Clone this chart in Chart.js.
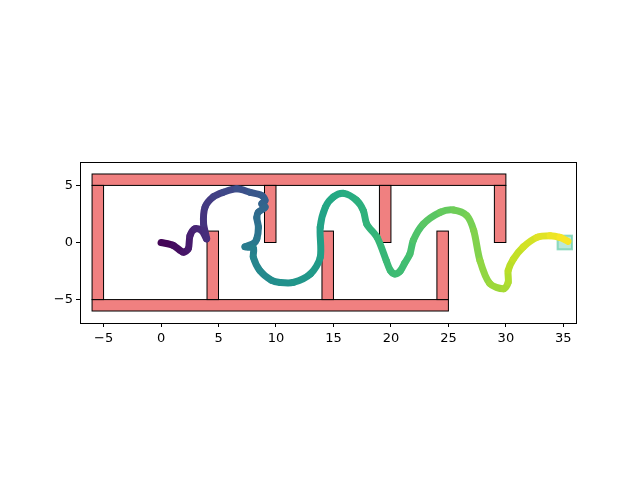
<!DOCTYPE html>
<html>
<head>
<meta charset="utf-8">
<script src="https://cdn.jsdelivr.net/npm/chart.js@4"></script>
<style>
  html, body { margin: 0; padding: 0; background: #fff; }
</style>
</head>
<body>
<canvas id="mazeChart" width="640" height="480"></canvas>
<script>
// trajectory (x, y)
const pathX = [0, 1.07, 1.94, 2.37, 2.52, 2.96, 3.54, 3.97, 3.7, 3.83, 4.55, 5.42, 6.58, 7.74, 8.76, 9.05, 8.76, 9.05, 8.47, 8.33, 8.47, 8.33, 8.03, 7.3, 8.03, 8.03, 8.6, 9.6, 10.35, 11.5, 13.0, 13.85, 13.85, 14.3, 15.0, 15.9, 17.0, 17.6, 17.9, 18.8, 19.6, 19.95, 20.35, 20.8, 21.2, 21.65, 21.95, 22.8, 24.3, 25.45, 26.6, 27.2, 27.75, 28.6, 29.8, 30.2, 30.2, 30.65, 31.5, 32.7, 33.85, 34.7, 35.4];
const pathY = [0, -0.26, -0.85, -0.55, 0.6, 1.2, 1.05, 0.32, 1.64, 3.1, 4.0, 4.4, 4.7, 4.4, 4.12, 3.68, 3.4, 3.1, 2.66, 2.2, 1.34, 0.32, -0.1, -0.38, -0.5, -1.29, -2.46, -3.3, -3.5, -3.5, -2.75, -1.3, 1.35, 3.1, 4.0, 4.3, 3.7, 2.8, 1.6, 0.45, -1.6, -2.45, -2.75, -2.5, -1.8, -1.0, 0.2, 1.6, 2.65, 2.85, 2.35, 1.05, -1.6, -3.6, -4.05, -3.5, -2.45, -1.45, -0.4, 0.45, 0.6, 0.45, 0.1];
// time along the run (0..1), which sets the colour
const pathT = [0, 0.02, 0.05, 0.065, 0.08, 0.095, 0.11, 0.125, 0.14, 0.16, 0.18, 0.2, 0.23, 0.26, 0.28, 0.3, 0.31, 0.32, 0.335, 0.35, 0.37, 0.39, 0.4, 0.41, 0.42, 0.44, 0.46, 0.48, 0.49, 0.51, 0.53, 0.55, 0.57, 0.59, 0.6, 0.61, 0.625, 0.635, 0.645, 0.655, 0.67, 0.675, 0.68, 0.685, 0.69, 0.7, 0.71, 0.73, 0.75, 0.77, 0.79, 0.8, 0.82, 0.845, 0.86, 0.875, 0.89, 0.9, 0.92, 0.945, 0.965, 0.985, 1];

// walls: x0, x1, y0, y1
const wallX0 = [-6, -6, -6, 4, 9, 14, 19, 24, 29];
const wallX1 = [30, 25, -5, 5, 10, 15, 20, 25, 30];
const wallY0 = [5, -6, -5, -5, 0, -5, 0, -5, 0];
const wallY1 = [6, -5, 5, 1, 5, 1, 5, 1, 5];

// goal square
const goalX = [34.5, 35.75];
const goalY = [-0.6, 0.6];

const xTicks = [-5, 0, 5, 10, 15, 20, 25, 30, 35];
const yTicks = [-5, 0, 5];

// viridis
const viridis = ["#440154", "#482475", "#414487", "#355f8d", "#2a788e", "#21918c", "#22a884", "#44bf70", "#7ad151", "#bddf26", "#fde725"];
function hex(c) { return [1, 3, 5].map(i => parseInt(c.substr(i, 2), 16)); }
function cmap(t) {
  t = Math.max(0, Math.min(1, t)) * (viridis.length - 1);
  const i = Math.min(Math.floor(t), viridis.length - 2);
  const f = t - i;
  const a = hex(viridis[i]), b = hex(viridis[i + 1]);
  return "rgb(" + a.map((v, k) => Math.round(v + (b[k] - v) * f)).join(",") + ")";
}

const points = pathX.map((x, i) => ({ x: x, y: pathY[i] }));

const mazePlugin = {
  id: "maze",
  beforeDatasetsDraw(chart) {
    const c = chart.ctx, sx = chart.scales.x, sy = chart.scales.y;
    c.save();
    for (let i = 0; i < wallX0.length; i++) {
      const l = sx.getPixelForValue(wallX0[i]), r = sx.getPixelForValue(wallX1[i]);
      const t = sy.getPixelForValue(wallY1[i]), b = sy.getPixelForValue(wallY0[i]);
      c.fillStyle = "#f08080";
      c.fillRect(l, t, r - l, b - t);
      c.strokeStyle = "#000";
      c.lineWidth = 1;
      c.strokeRect(l, t, r - l, b - t);
    }
    const gl = sx.getPixelForValue(goalX[0]), gr = sx.getPixelForValue(goalX[1]);
    const gt = sy.getPixelForValue(goalY[1]), gb = sy.getPixelForValue(goalY[0]);
    c.fillStyle = "rgba(102,205,170,0.45)";
    c.fillRect(gl, gt, gr - gl, gb - gt);
    c.strokeStyle = "rgba(102,205,170,0.7)";
    c.lineWidth = 2;
    c.strokeRect(gl, gt, gr - gl, gb - gt);
    c.restore();
  },
  afterDraw(chart) {
    const a = chart.chartArea, c = chart.ctx;
    c.save();
    c.strokeStyle = "#000";
    c.lineWidth = 1;
    c.strokeRect(Math.round(a.left) + 0.5, Math.round(a.top) + 0.5, Math.round(a.right - a.left), Math.round(a.bottom - a.top));
    c.restore();
  }
};

const tickFont = { family: "DejaVu Sans", size: 13 };

new Chart(document.getElementById("mazeChart").getContext("2d"), {
  type: "scatter",
  data: {
    datasets: [
      {
        data: points,
        showLine: true,
        pointRadius: 0,
        borderWidth: 7,
        borderCapStyle: "round",
        borderJoinStyle: "round",
        tension: 0.3,
        segment: {
          borderColor: (ctx) => cmap((pathT[ctx.p0DataIndex] + pathT[ctx.p1DataIndex]) / 2),
        },
      },
    ],
  },
  options: {
    responsive: false,
    animation: false,
    layout: { padding: { left: 0, top: 162, right: 64, bottom: 0 } },
    plugins: { legend: { display: false }, tooltip: { enabled: false } },
    scales: {
      x: {
        type: "linear",
        min: -7.05,
        max: 36.1,
        afterFit: (s) => { s.height = 157; },
        afterBuildTicks: (s) => { s.ticks = xTicks.map((v) => ({ value: v })); },
        ticks: { color: "#000", font: tickFont, padding: 4, maxRotation: 0,
          callback: (v) => String(v).replace("-", "\u2212") },
        grid: { display: true, drawOnChartArea: false, drawTicks: true, tickLength: 4, color: "#000" },
        border: { display: true, color: "#000" },
      },
      y: {
        type: "linear",
        min: -7.05,
        max: 7.05,
        afterFit: (s) => { s.width = 80; },
        afterBuildTicks: (s) => { s.ticks = yTicks.map((v) => ({ value: v })); },
        ticks: { color: "#000", font: tickFont, padding: 3,
          callback: (v) => String(v).replace("-", "\u2212") },
        grid: { display: true, drawOnChartArea: false, drawTicks: true, tickLength: 4, color: "#000" },
        border: { display: true, color: "#000" },
      },
    },
  },
  plugins: [mazePlugin],
});
</script>
</body>
</html>
